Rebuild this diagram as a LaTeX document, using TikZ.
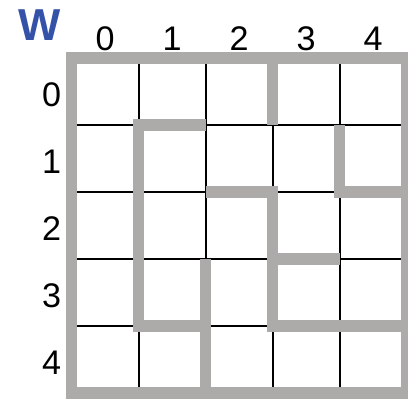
\documentclass[tikz,border=0pt]{standalone}
\usepackage{fontspec}
\setmainfont{Liberation Sans}
\definecolor{wallgray}{RGB}{173,170,170}
\definecolor{wblue}{RGB}{52,82,168}

\begin{document}
\begin{tikzpicture}[x=1cm, y=-1cm,
  wall/.style={wallgray, line width=4.8pt, line join=miter},
  gridline/.style={black, line width=0.8pt},
  lbl/.style={font=\fontsize{14.5}{16}\selectfont, inner sep=0pt}]
\useasboundingbox (-1.070,-0.866) rectangle (5.019,5.075);

% Grid lines
\foreach \i in {1,...,4} {
  \draw[gridline] (\i,0) -- (\i,5);
  \draw[gridline] (0,\i) -- (5,\i);
}

% Row and column numbers
\foreach \i in {0,...,4} {
  \node[lbl] (col\i) at (\i+0.5,-0.29) {\i};
  \node[lbl] (row\i) at (-0.30,\i+0.55) {\i};
}

\node[font=\fontsize{19}{21}\selectfont\bfseries, text=wblue, inner sep=0pt] (w) at (-0.473,-0.485) {W};

% Outer border
\draw[wall] (0,0) rectangle (5,5);

% Walls
\draw[wall] (3,0) -- (3,1);
\draw[wall] (2,1) -- (1,1) -- (1,4) -- (2,4);
\draw[wall] (2,3) -- (2,5);
\draw[wall] (2,2) -- (3,2) -- (3,4) -- (5,4);
\draw[wall] (3,3) -- (4,3);
\draw[wall] (4,1) -- (4,2) -- (5,2);

\end{tikzpicture}
\end{document}
